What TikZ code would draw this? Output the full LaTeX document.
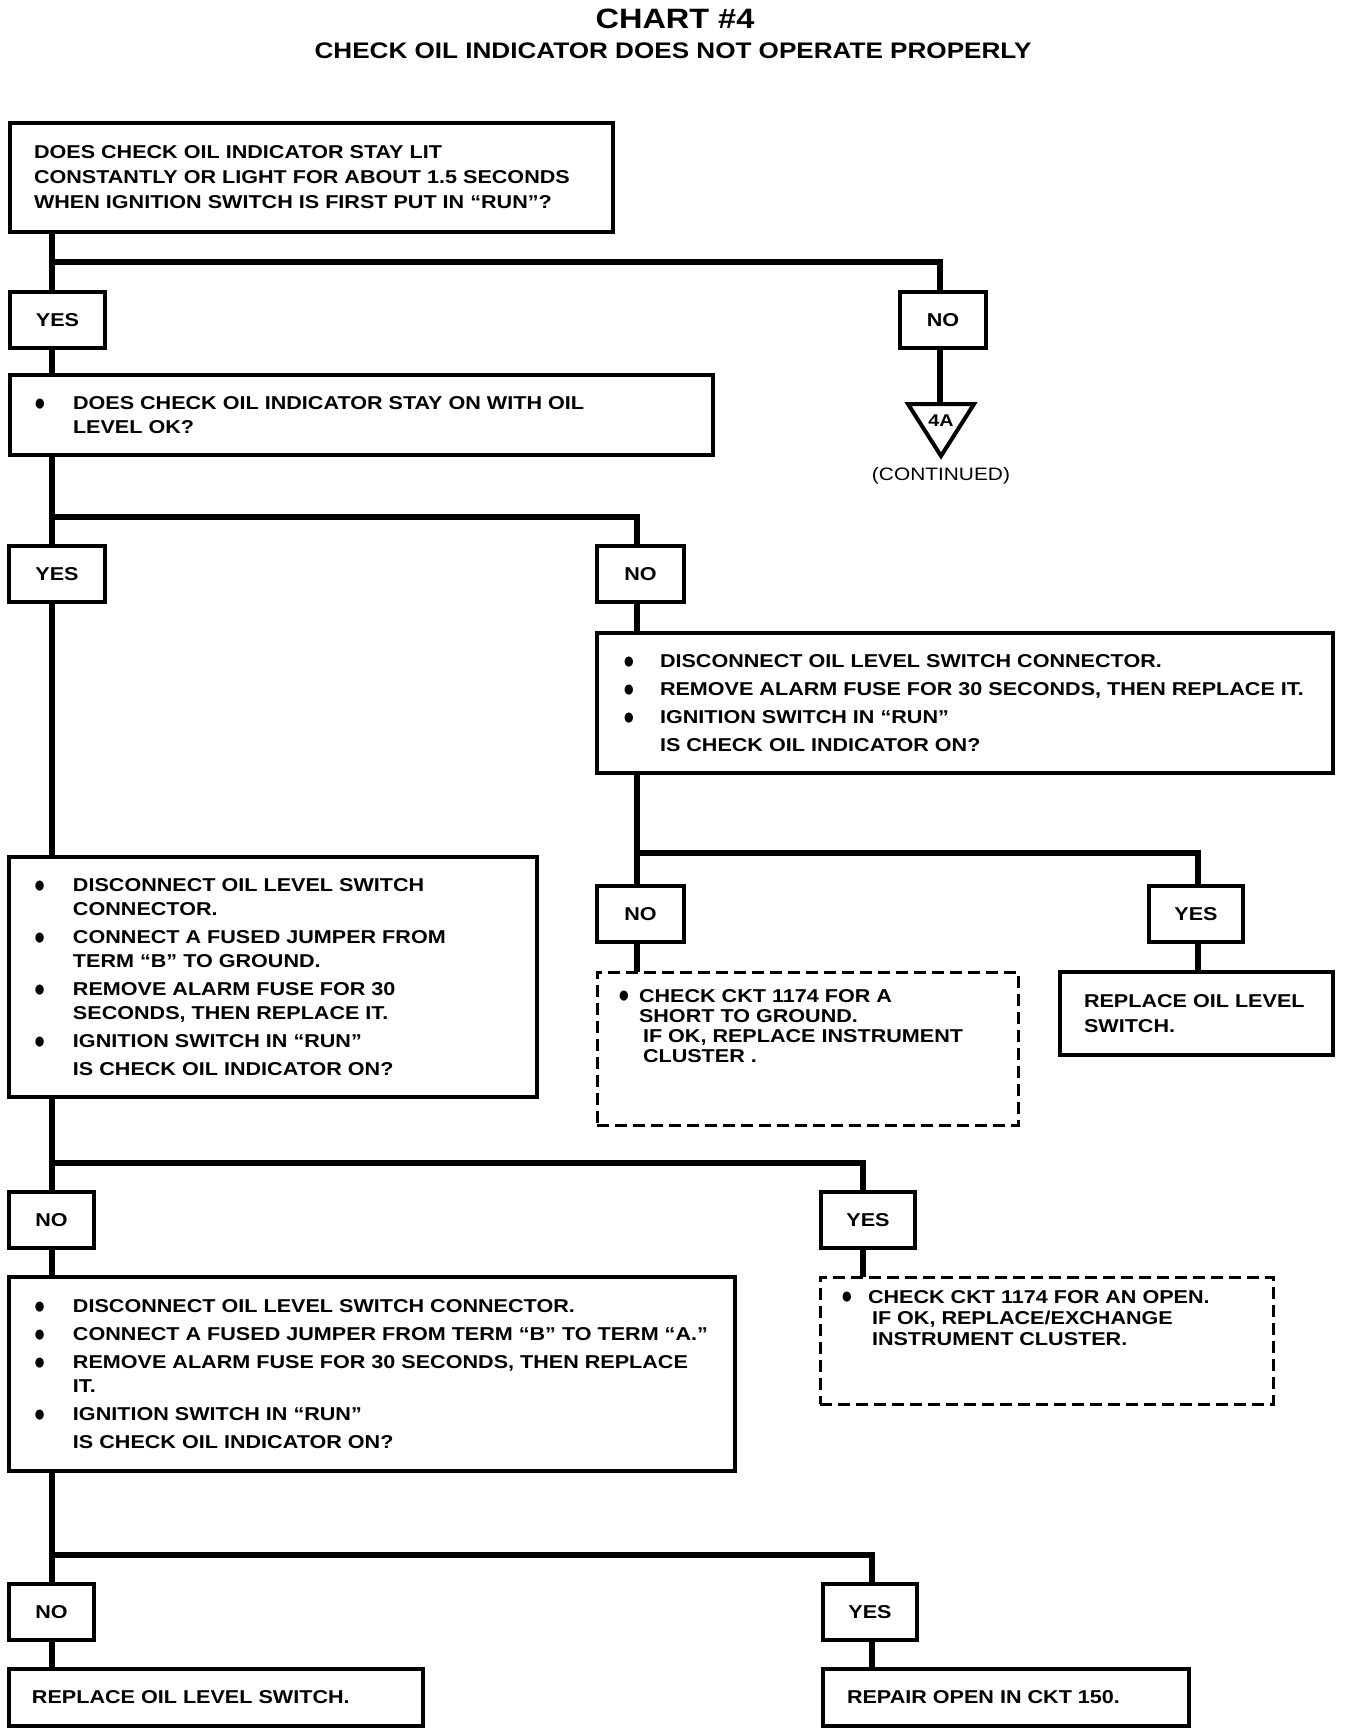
\documentclass[tikz,border=0pt]{standalone}
\usepackage{fontspec}
\usepackage{graphicx}
\newfontfamily\cf[FakeStretch=1.16]{Liberation Sans}
\newfontfamily\dv{DejaVu Sans}
\newlength\bh
\newcommand\bdot{\raisebox{2.2pt}{\scalebox{1}[1.2]{\dv\fontsize{11}{11}\selectfont ●}}}
\newcommand\bitem[1]{\par\hangindent=\bh\hangafter=1\noindent\makebox[\bh][l]{\bdot}#1}
\newcommand\cont[1]{\par\noindent\hspace*{\bh}#1}
\newcommand\bt[5]{\parbox[c][#2pt][#3]{#1pt}{\setlength\parindent{0pt}\setlength\leftskip{#4pt}\setlength\rightskip{-60pt plus 1fil}\setlength\parskip{4pt}#5}}
\begin{document}
\begin{tikzpicture}[x=1pt,y=-1pt,
  every node/.style={font=\cf\bfseries\fontsize{18.6}{24}\selectfont},
  bx/.style={draw, line width=3.5pt, inner sep=0pt, outer sep=0pt, anchor=north west},
  dbx/.style={bx, line width=3pt, dash pattern=on 12pt off 6pt},
  yn/.style={bx, minimum width=#1, minimum height=56},
  conn/.style={line width=6.5pt, line join=miter}]
\useasboundingbox (0,0) rectangle (1344,1734);
\fill[white] (0,0) rectangle (1344,1734);

% titles
\node[anchor=base, font=\cf\bfseries\fontsize{28}{30}\selectfont] (title) at (675,29) {CHART \#4};
\node[anchor=base, font=\cf\bfseries\fontsize{22.5}{24}\selectfont] (sub) at (673,59) {CHECK OIL INDICATOR DOES NOT OPERATE PROPERLY};

% boxes
\node[bx] (q1) at (10,123) {\bt{603}{109}{c}{24}{\fontsize{18.6}{25}\selectfont DOES CHECK OIL INDICATOR STAY LIT\\CONSTANTLY OR LIGHT FOR ABOUT 1.5 SECONDS\\WHEN IGNITION SWITCH IS FIRST PUT IN “RUN”?}};
\node[yn=95] (yes1) at (10,292) {YES};
\node[yn=86] (no1) at (900,292) {NO};
\node[bx] (q2) at (10,375) {\bt{703}{80}{c}{25}{\setlength\bh{38pt}\bitem{DOES CHECK OIL INDICATOR STAY ON WITH OIL\\LEVEL OK?}}};

\coordinate (tri) at (940,404);
\draw[line width=4pt, line join=miter] (tri) ++(-32,0) -- ++(66,0) -- ++(-33,52) -- cycle;
\node[font=\cf\bfseries\fontsize{17}{18}\selectfont] (fourA) at (941,421) {4A};
\node[font=\cf\fontsize{18}{20}\selectfont] (cont) at (941,476) {(CONTINUED)};

\node[yn=96] (yes2) at (9,546) {YES};
\node[yn=87] (no2) at (597,546) {NO};
\node[bx] (q3) at (597,633) {\bt{736}{140}{c}{27}{\setlength\bh{36pt}\bitem{DISCONNECT OIL LEVEL SWITCH CONNECTOR.}\bitem{REMOVE ALARM FUSE FOR 30 SECONDS, THEN REPLACE IT.}\bitem{IGNITION SWITCH IN “RUN”}\cont{IS CHECK OIL INDICATOR ON?}}};

\node[yn=87] (no3) at (597,886) {NO};
\node[yn=94] (yes3) at (1149,886) {YES};
\node[dbx] (d1) at (597,972) {\bt{421}{153}{t}{22}{\setlength\parskip{0pt}\fontsize{18.6}{20.3}\selectfont\setlength\bh{20pt}\bitem{\rule{0pt}{30pt}CHECK CKT 1174 FOR A\\SHORT TO GROUND.\\\hspace*{4pt}IF OK, REPLACE INSTRUMENT\\\hspace*{4pt}CLUSTER .}}};
\node[bx] (r1) at (1060,972) {\bt{273}{83}{c}{24}{\fontsize{18.6}{25}\selectfont REPLACE OIL LEVEL\\SWITCH.}};

\node[bx] (q4) at (9,857) {\bt{528}{240}{c}{26}{\setlength\bh{38pt}\bitem{DISCONNECT OIL LEVEL SWITCH\\CONNECTOR.}\bitem{CONNECT A FUSED JUMPER FROM\\TERM “B” TO GROUND.}\bitem{REMOVE ALARM FUSE FOR 30\\SECONDS, THEN REPLACE IT.}\bitem{IGNITION SWITCH IN “RUN”}\cont{IS CHECK OIL INDICATOR ON?}}};

\node[yn=85] (no4) at (9,1192) {NO};
\node[yn=94] (yes4) at (821,1192) {YES};
\node[bx] (q5) at (9,1277) {\bt{726}{194}{c}{26}{\setlength\bh{38pt}\bitem{DISCONNECT OIL LEVEL SWITCH CONNECTOR.}\bitem{CONNECT A FUSED JUMPER FROM TERM “B” TO TERM “A.”}\bitem{REMOVE ALARM FUSE FOR 30 SECONDS, THEN REPLACE\\IT.}\bitem{IGNITION SWITCH IN “RUN”}\cont{IS CHECK OIL INDICATOR ON?}}};
\node[dbx] (d2) at (820,1277) {\bt{453}{127}{t}{22}{\setlength\parskip{0pt}\fontsize{18.6}{21}\selectfont\setlength\bh{26pt}\bitem{\rule{0pt}{26pt}CHECK CKT 1174 FOR AN OPEN.\\\hspace*{4pt}IF OK, REPLACE/EXCHANGE\\\hspace*{4pt}INSTRUMENT CLUSTER.}}};

\node[yn=85] (no5) at (9,1584) {NO};
\node[yn=94] (yes5) at (823,1584) {YES};
\node[bx] (r2) at (9,1669) {\bt{414}{57}{c}{23}{REPLACE OIL LEVEL SWITCH.}};
\node[bx] (r3) at (823,1669) {\bt{366}{57}{c}{24}{REPAIR OPEN IN CKT 150.}};

% junction coordinates
\coordinate (j1) at (52,262);  \coordinate (k1) at (940,262);
\coordinate (j2) at (52,517);  \coordinate (k2) at (637,517);
\coordinate (j3) at (637,853); \coordinate (k3) at (1198,853);
\coordinate (j4) at (52,1163); \coordinate (k4) at (863,1163);
\coordinate (j5) at (52,1555); \coordinate (k5) at (872,1555);

% connectors
\draw[conn] (q1.south -| j1) -- (j1);
\draw[conn] (yes1.north -| j1) -- (j1) -- (k1) -- (no1.north -| k1);
\draw[conn] (yes1.south -| j1) -- (q2.north -| j1);
\draw[conn] (no1.south -| k1) -- (tri);

\draw[conn] (q2.south -| j2) -- (j2);
\draw[conn] (yes2.north -| j2) -- (j2) -- (k2) -- (no2.north -| k2);
\draw[conn] (yes2.south -| j2) -- (q4.north -| j2);
\draw[conn] (no2.south -| k2) -- (q3.north -| k2);

\draw[conn] (q3.south -| j3) -- (j3);
\draw[conn] (no3.north -| j3) -- (j3) -- (k3) -- (yes3.north -| k3);
\draw[conn] (no3.south -| j3) -- (d1.north -| j3);
\draw[conn] (yes3.south -| k3) -- (r1.north -| k3);

\draw[conn] (q4.south -| j4) -- (j4);
\draw[conn] (no4.north -| j4) -- (j4) -- (k4) -- (yes4.north -| k4);
\draw[conn] (no4.south -| j4) -- (q5.north -| j4);
\draw[conn] (yes4.south -| k4) -- (d2.north -| k4);

\draw[conn] (q5.south -| j5) -- (j5);
\draw[conn] (no5.north -| j5) -- (j5) -- (k5) -- (yes5.north -| k5);
\draw[conn] (no5.south -| j5) -- (r2.north -| j5);
\draw[conn] (yes5.south -| k5) -- (r3.north -| k5);
\end{tikzpicture}
\end{document}
